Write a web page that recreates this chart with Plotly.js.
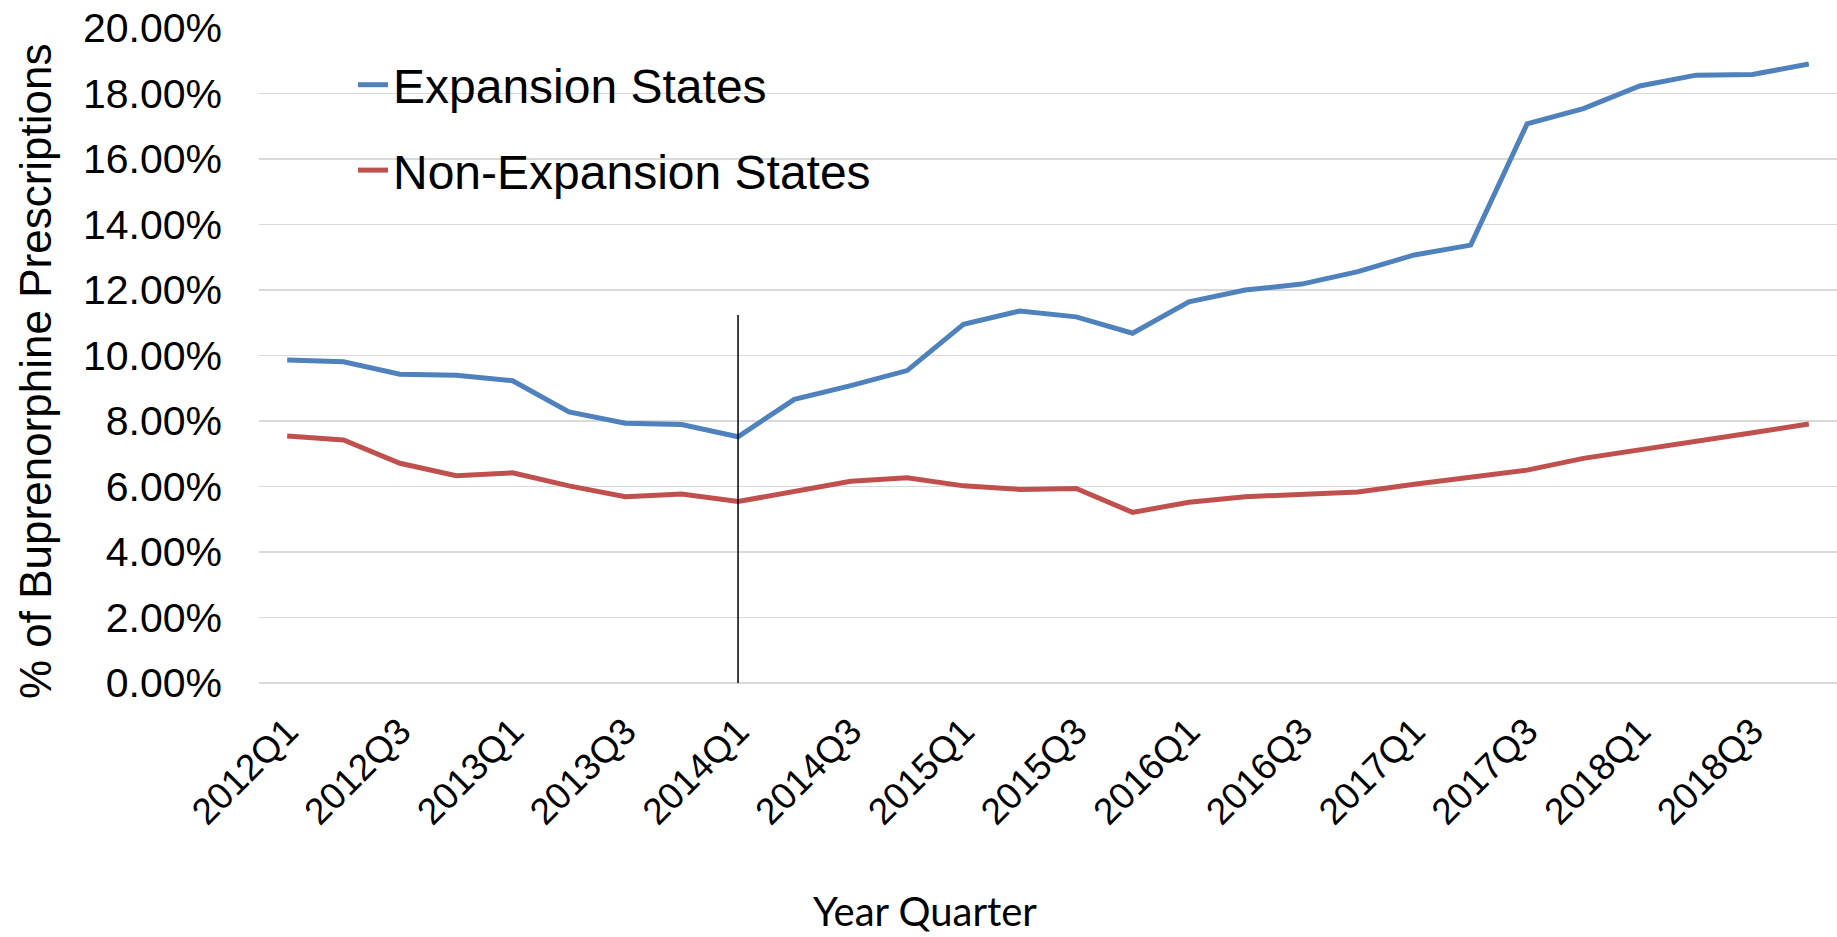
<!DOCTYPE html>
<html>
<head>
<meta charset="utf-8">
<script src="https://cdn.plot.ly/plotly-3.0.1.min.js"></script>
<style>
  html, body { margin: 0; padding: 0; background: #ffffff; }
  #chart { width: 1837px; height: 937px; }
</style>
</head>
<body>
<div id="chart"></div>
<script>
// ---- data ----
const quarters = [
  '2012Q1','2012Q2','2012Q3','2012Q4',
  '2013Q1','2013Q2','2013Q3','2013Q4',
  '2014Q1','2014Q2','2014Q3','2014Q4',
  '2015Q1','2015Q2','2015Q3','2015Q4',
  '2016Q1','2016Q2','2016Q3','2016Q4',
  '2017Q1','2017Q2','2017Q3','2017Q4',
  '2018Q1','2018Q2','2018Q3','2018Q4'
];
const expansionStates = [
  9.86, 9.81, 9.43, 9.40, 9.23, 8.28, 7.93, 7.89,
  7.52, 8.66, 9.08, 9.54, 10.95, 11.36, 11.18, 10.68,
  11.64, 12.00, 12.18, 12.56, 13.07, 13.37, 17.07, 17.54,
  18.23, 18.56, 18.58, 18.90
];
const nonExpansionStates = [
  7.54, 7.42, 6.71, 6.33, 6.42, 6.02, 5.69, 5.77,
  5.54, 5.84, 6.16, 6.27, 6.02, 5.91, 5.94, 5.21,
  5.52, 5.69, 5.75, 5.83, 6.07, 6.28, 6.50, 6.86,
  7.11, 7.37, 7.64, 7.91
];
const seriesNames = ['Expansion States', 'Non-Expansion States'];
const markerQuarter = ['2014Q1', '2014Q1'];
const markerValues = [0, 11.24];
const yTitle = '% of Buprenorphine Prescriptions';
const xTitle = 'Year Quarter';

const shownTicks = quarters.filter((q, i) => i % 2 === 0);

const traces = [
  {
    x: quarters, y: expansionStates, name: seriesNames[0],
    type: 'scatter', mode: 'lines', legendgroup: 'a',
    line: { color: '#4F81BD', width: 5 }
  },
  {
    x: quarters, y: nonExpansionStates, name: seriesNames[1],
    type: 'scatter', mode: 'lines', legendgroup: 'b',
    line: { color: '#C0504D', width: 5 }
  },
  {
    x: markerQuarter, y: markerValues, type: 'scatter', mode: 'lines',
    showlegend: false, hoverinfo: 'skip',
    line: { color: '#000000', width: 1.5 }
  }
];

const layout = {
  width: 1837, height: 937,
  paper_bgcolor: '#ffffff', plot_bgcolor: '#ffffff',
  margin: { l: 259, r: 0, t: 28, b: 254, pad: 0 },
  font: { family: '"Liberation Sans", Arial, sans-serif', color: '#000000' },
  showlegend: true,
  legend: {
    x: (353 - 259) / (1837 - 259), xanchor: 'left',
    y: 1 + (28 - 47) / 655, yanchor: 'top',
    bgcolor: 'rgba(0,0,0,0)',
    font: { size: 48, family: '"Liberation Sans", Arial, sans-serif', color: '#000' },
    tracegroupgap: 20,
    itemwidth: 30
  },
  xaxis: {
    type: 'category',
    range: [-0.5, 27.5],
    tickmode: 'array', tickvals: shownTicks, ticktext: shownTicks,
    tickangle: -45,
    tickfont: { size: 37, family: '"Liberation Sans", Arial, sans-serif', color: '#000' },
    ticks: '', showgrid: false, zeroline: false,
    showline: false,
    ticklabelstandoff: 18
  },
  yaxis: {
    range: [0, 20], dtick: 2, tick0: 0,
    tickformat: '.2f', ticksuffix: '%',
    tickfont: { size: 41, family: '"Liberation Sans", Arial, sans-serif', color: '#000' },
    ticks: '', showgrid: true, gridcolor: '#D9D9D9', gridwidth: 1.5,
    zeroline: true, zerolinecolor: '#D9D9D9', zerolinewidth: 1.5,
    showline: false,
    ticklabelstandoff: 36
  },
  annotations: [
    {
      text: yTitle, xref: 'paper', yref: 'paper',
      x: (35 - 259) / (1837 - 259), y: (683 - 372) / 655,
      xanchor: 'center', yanchor: 'middle', textangle: -90, showarrow: false,
      font: { size: 44, family: '"Liberation Sans", Arial, sans-serif', color: '#000' }
    },
    {
      text: xTitle, xref: 'paper', yref: 'paper',
      x: (925 - 259) / (1837 - 259), y: -(937 - 683) / 655,
      xanchor: 'center', yanchor: 'bottom', showarrow: false,
      font: { size: 40, family: 'Lato, "Open Sans", sans-serif', color: '#000' }
    }
  ]
};

Plotly.newPlot('chart', traces, layout, { displayModeBar: false, staticPlot: true });
</script>
</body>
</html>
